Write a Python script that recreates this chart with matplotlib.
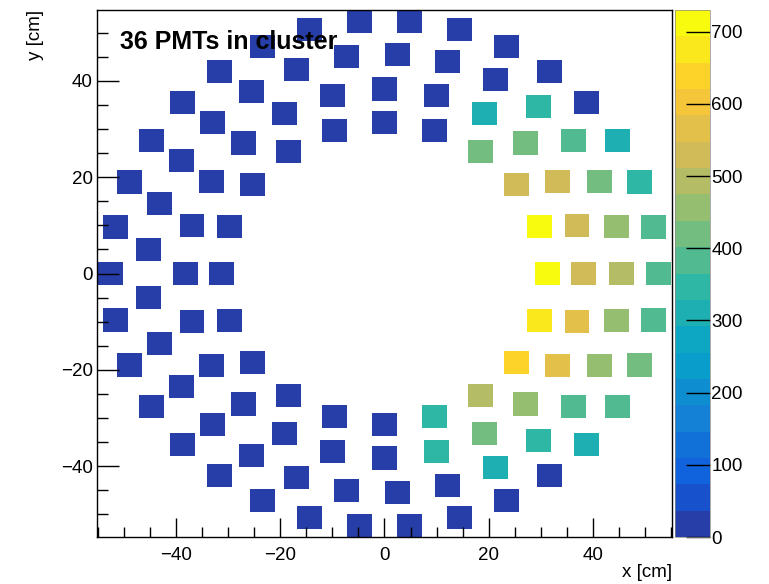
import numpy as np
import matplotlib
matplotlib.use("Agg")
import matplotlib.pyplot as plt
from matplotlib.colors import LinearSegmentedColormap, ListedColormap, BoundaryNorm
from matplotlib.patches import Rectangle
from matplotlib.collections import PatchCollection

plt.rcParams['font.family'] = ['Liberation Sans', 'DejaVu Sans']

# PMT rings (radius in cm, number of PMTs per ring)
ring_radius = [31.3, 38.3, 45.6, 52.6]
ring_count = [20, 24, 29, 34]
pmt_size = 4.8

# PMTs in the cluster: ring number, position in ring, charge
hit_ring = [0, 0, 0, 0, 0, 0, 0, 0,
            1, 1, 1, 1, 1, 1, 1, 1, 1, 1,
            2, 2, 2, 2, 2, 2, 2, 2, 2, 2,
            3, 3, 3, 3, 3, 3, 3, 3]
hit_index = [0, 1, 2, 3, 16, 17, 18, 19,
             0, 1, 2, 3, 4, 19, 20, 21, 22, 23,
             0, 1, 2, 3, 4, 24, 25, 26, 27, 28,
             0, 1, 2, 3, 30, 31, 32, 33]
hit_value = [715, 730, 529, 420, 347, 493, 639, 675,
             529, 529, 529, 420, 310, 347, 420, 456, 566, 566,
             493, 456, 420, 383, 347, 310, 347, 383, 456, 456,
             383, 383, 347, 310, 310, 383, 420, 383]

z_max = 730
n_levels = 20

# ROOT kBird palette
stops = [0.0, 0.125, 0.25, 0.375, 0.5, 0.625, 0.75, 0.875, 1.0]
red = [0.2082, 0.0592, 0.0780, 0.0232, 0.1802, 0.5301, 0.8186, 0.9956, 0.9764]
green = [0.1664, 0.3599, 0.5041, 0.6419, 0.7178, 0.7492, 0.7328, 0.7862, 0.9832]
blue = [0.5293, 0.8684, 0.8385, 0.7914, 0.6425, 0.4662, 0.3499, 0.1968, 0.0539]
bird = LinearSegmentedColormap.from_list(
    "bird", [(s, (r, g, b)) for s, r, g, b in zip(stops, red, green, blue)], N=255)
level_cols = [bird(int((i + 0.99) * 255 / n_levels) / 254) for i in range(n_levels)]
cmap = ListedColormap(level_cols)
norm = BoundaryNorm(np.linspace(0, z_max, n_levels + 1), n_levels)

# build PMT positions and charges
xs, ys, vals = [], [], []
for r, (rad, n) in enumerate(zip(ring_radius, ring_count)):
    for k in range(n):
        phi = 2 * np.pi * k / n
        xs.append(rad * np.cos(phi))
        ys.append(rad * np.sin(phi))
        v = 0
        for hr, hi, hv in zip(hit_ring, hit_index, hit_value):
            if hr == r and hi == k:
                v = hv
        vals.append(v)

fig = plt.figure(figsize=(7.69, 5.84), dpi=100)
ax = fig.add_axes([97 / 769, 1 - 537 / 584, 575 / 769, 527 / 584])

boxes = [Rectangle((x - pmt_size / 2, y - pmt_size / 2), pmt_size, pmt_size) for x, y in zip(xs, ys)]
pc = PatchCollection(boxes, cmap=cmap, norm=norm, edgecolor='none')
pc.set_array(np.array(vals))
ax.add_collection(pc)

ax.set_xlim(-55.25, 55.25)
ax.set_ylim(-54.7, 54.7)
ax.set_xticks([-40, -20, 0, 20, 40])
ax.set_yticks([-40, -20, 0, 20, 40])
ax.set_xticks(np.arange(-55, 56, 5), minor=True)
ax.set_yticks(np.arange(-50, 55, 5), minor=True)
ax.tick_params(which='both', direction='in', top=False, right=False, labelsize=13.5, width=1)
ax.tick_params(axis='x', which='major', length=14, pad=7)
ax.tick_params(axis='x', which='minor', length=7)
ax.tick_params(axis='y', which='major', length=16, pad=3)
ax.tick_params(axis='y', which='minor', length=8)
for sp in ax.spines.values():
    sp.set_linewidth(1)

ax.set_xlabel('x [cm]', fontsize=13.5, loc='right')
ax.xaxis.set_label_coords(1.0, -0.052)
ax.set_ylabel('y [cm]', fontsize=13.5, loc='top')
ax.yaxis.set_label_coords(-0.092, 1.0)

ax.text(0.04, 0.926, '36 PMTs in cluster', transform=ax.transAxes,
        fontsize=18, fontweight='bold', va='baseline', ha='left')

cax = fig.add_axes([675 / 769, 1 - 537 / 584, 35 / 769, 527 / 584])
cb = fig.colorbar(pc, cax=cax, ticks=range(0, 701, 100))
cb.outline.set_linewidth(0.5)
cb.outline.set_edgecolor('#888888')
cax.tick_params(direction='in', length=17, width=1, pad=1, labelsize=13.5)
cax.minorticks_off()

fig.savefig('out.png', dpi=100)
